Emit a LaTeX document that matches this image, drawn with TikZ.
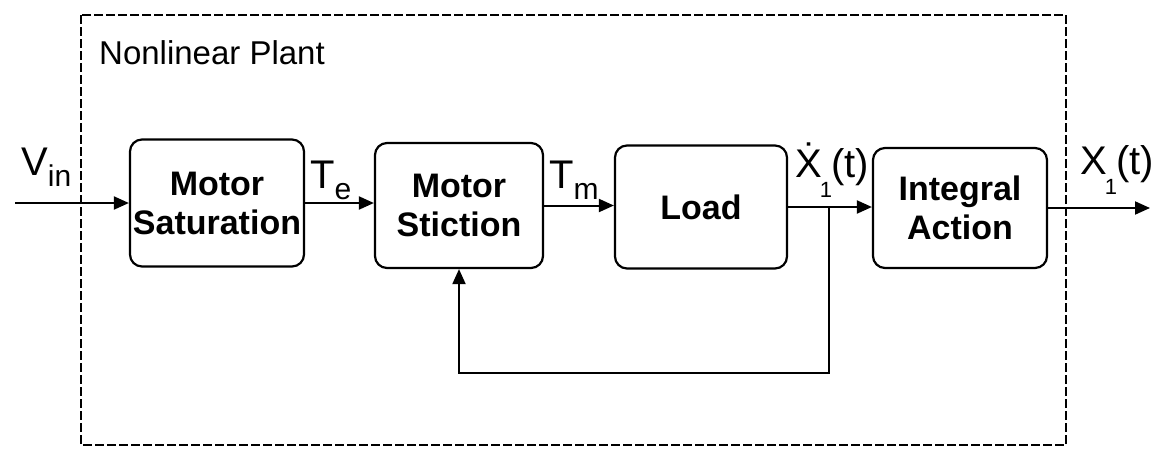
\documentclass[tikz,border=0pt]{standalone}
\usepackage{fontspec}
\setmainfont{Liberation Sans}
\usetikzlibrary{arrows.meta}
\newcommand{\lowsub}[1]{\raisebox{-0.28em}{\fontsize{30}{30}\selectfont #1}}
\newcommand{\onesub}{\raisebox{-0.5em}{\fontsize{22}{22}\selectfont 1}}
\begin{document}
\begin{tikzpicture}[x=1pt,y=-1pt,
  blk/.style={draw, line width=2.2pt, rounded corners=12pt, inner sep=0pt, align=center,
    font=\fontsize{34}{39}\selectfont\bfseries},
  arr/.style={line width=2pt, -{Triangle[length=15pt,width=13pt]}},
  lbl/.style={inner sep=0pt, anchor=base west, font=\fontsize{40}{40}\selectfont},
  frame/.style={line width=1.5pt, dash pattern=on 9pt off 3pt}]
\useasboundingbox (0,0) rectangle (1156,448);
\draw[frame] (81,15) rectangle (1066,445);
\node[lbl, font=\fontsize{33}{33}\selectfont] (title) at (99,64) {Nonlinear Plant};

\node[blk, minimum width=174pt, minimum height=127pt] (sat) at (217,203) {Motor\\Saturation};
\node[blk, minimum width=168pt, minimum height=125pt] (sti) at (459,205.5) {Motor\\Stiction};
\node[blk, minimum width=172pt, minimum height=123pt] (load) at (701,207) {Load};
\node[blk, minimum width=174pt, minimum height=120pt] (integ) at (960,208) {Integral\\Action};

\coordinate (in) at (15,203);
\coordinate (out) at (1150,208);
\draw[arr] (in) -- (sat.west);
\draw[arr] (sat.east) -- (sat.east -| sti.west);
\draw[arr] (sti.east) -- (sti.east -| load.west);
\draw[arr] (load.east) -- (load.east -| integ.west);
\draw[arr] (integ.east) -- (out);
\coordinate (br) at (load.east -| 829,0);
\draw[arr] (br) -- (br |- 0,373) -| (sti.south);

\node[lbl] (vin) at (21,175) {V\lowsub{in}};
\node[lbl] (te) at (310,188) {T\lowsub{e}};
\node[lbl] (tm) at (549,188) {T\lowsub{m}};
\node[lbl] (xd) at (795,177) {\.{X}\kern-0.05em\onesub\kern-0.02em(t)};
\node[lbl] (xo) at (1080,174) {X\kern-0.05em\onesub\kern-0.02em(t)};
\end{tikzpicture}
\end{document}
